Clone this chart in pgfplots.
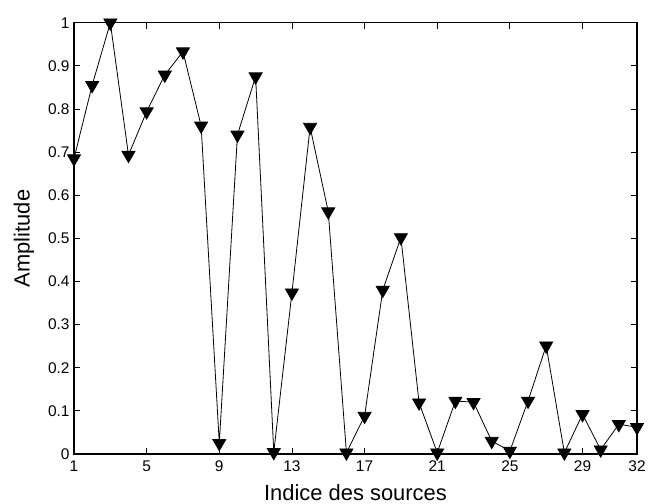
\documentclass[border=0pt]{standalone}
\usepackage{fontspec}
\setmainfont{Liberation Sans}
\usepackage{pgfplots}
\pgfplotsset{compat=1.18}
\begin{document}
\begin{tikzpicture}
\begin{axis}[
  scale only axis,
  width=563bp, height=431.3bp,
  xmin=1, xmax=32, ymin=0, ymax=1,
  xtick={1,5,9,13,17,21,25,29,32},
  ytick={0,0.1,0.2,0.3,0.4,0.5,0.6,0.7,0.8,0.9,1},
  yticklabels={0,0.1,0.2,0.3,0.4,0.5,0.6,0.7,0.8,0.9,1},
  tick pos=both, tick align=inside,
  major tick length=6bp,
  axis line style={line width=1.5bp},
  every tick/.style={black, line width=0.8bp},
  /pgf/number format/assume math mode=true,
  tick label style={font=\fontsize{15.5}{18}\selectfont},
  xticklabel style={yshift=-3bp},
  yticklabel style={xshift=-1bp},
  label style={font=\fontsize{22}{26}\selectfont},
  xlabel={Indice des sources},
  ylabel={Amplitude},
  xlabel style={at={(axis description cs:0.5,0)}, anchor=base, yshift=-46bp},
  ylabel style={at={(axis description cs:0,0.5)}, anchor=center, yshift=50bp},
  clip=false,
]
\addplot[black, line width=0.8bp, mark=triangle*, mark size=7.5bp,
  mark options={rotate=180, fill=black}] coordinates {
(1,0.685) (2,0.855) (3,1.0) (4,0.693) (5,0.794) (6,0.879) (7,0.933) (8,0.761)
(9,0.025) (10,0.74) (11,0.875) (12,0.004) (13,0.374) (14,0.758) (15,0.562) (16,0.003)
(17,0.088) (18,0.38) (19,0.502) (20,0.119) (21,0.003) (22,0.123) (23,0.12) (24,0.03)
(25,0.007) (26,0.123) (27,0.251) (28,0.003) (29,0.092) (30,0.01) (31,0.069) (32,0.062)
};
\coordinate (ll) at (rel axis cs:0,0);
\coordinate (ur) at (rel axis cs:1,1);
\end{axis}
\pgfresetboundingbox
\path[use as bounding box] ([shift={(-74bp,-50bp)}]ll) rectangle ([shift={(22bp,22.7bp)}]ur);
\end{tikzpicture}
\end{document}
